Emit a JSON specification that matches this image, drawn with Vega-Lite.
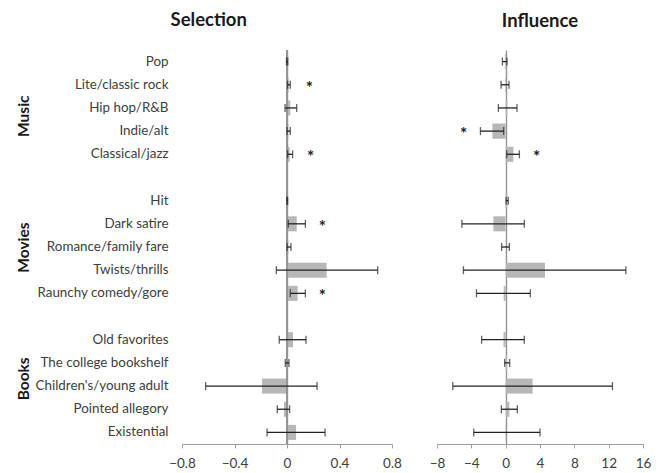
{
  "$schema": "https://vega.github.io/schema/vega-lite/v6.json",
  "padding": {"left": 15, "top": 10, "right": 5, "bottom": 5},
  "config": {"view": {"stroke": null}, "font": "Lato", "axis": {"labelOverlap": false, "labelFlush": false, "labelBound": false}},
  "datasets": {
    "rows": [
      {"cat": "Pop", "sel": 0.002, "sel_lo": -0.004, "sel_hi": 0.006, "sel_star": null, "inf": -0.1, "inf_lo": -0.38, "inf_hi": 0.16, "inf_star": null},
      {"cat": "Lite/classic rock", "sel": 0.012, "sel_lo": 0.005, "sel_hi": 0.025, "sel_star": 0.17, "inf": -0.07, "inf_lo": -0.54, "inf_hi": 0.39, "inf_star": null},
      {"cat": "Hip hop/R&B", "sel": 0.025, "sel_lo": -0.015, "sel_hi": 0.074, "sel_star": null, "inf": 0.2, "inf_lo": -0.85, "inf_hi": 1.32, "inf_star": null},
      {"cat": "Indie/alt", "sel": 0.01, "sel_lo": 0.0, "sel_hi": 0.025, "sel_star": null, "inf": -1.55, "inf_lo": -2.94, "inf_hi": -0.23, "inf_star": -4.9},
      {"cat": "Classical/jazz", "sel": 0.02, "sel_lo": 0.005, "sel_hi": 0.043, "sel_star": 0.18, "inf": 0.9, "inf_lo": 0.12, "inf_hi": 1.6, "inf_star": 3.6},
      {"cat": "Hit", "sel": 0.002, "sel_lo": -0.002, "sel_hi": 0.005, "sel_star": null, "inf": 0.2, "inf_lo": 0.05, "inf_hi": 0.3, "inf_star": null},
      {"cat": "Dark satire", "sel": 0.074, "sel_lo": 0.01, "sel_hi": 0.14, "sel_star": 0.27, "inf": -1.43, "inf_lo": -5.1, "inf_hi": 2.17, "inf_star": null},
      {"cat": "Romance/family fare", "sel": 0.01, "sel_lo": 0.0, "sel_hi": 0.03, "sel_star": null, "inf": -0.02, "inf_lo": -0.47, "inf_hi": 0.43, "inf_star": null},
      {"cat": "Twists/thrills", "sel": 0.302, "sel_lo": -0.081, "sel_hi": 0.691, "sel_star": null, "inf": 4.58, "inf_lo": -4.92, "inf_hi": 14.0, "inf_star": null},
      {"cat": "Raunchy comedy/gore", "sel": 0.081, "sel_lo": 0.025, "sel_hi": 0.14, "sel_star": 0.27, "inf": -0.23, "inf_lo": -3.4, "inf_hi": 2.87, "inf_star": null},
      {"cat": "Old favorites", "sel": 0.046, "sel_lo": -0.059, "sel_hi": 0.145, "sel_star": null, "inf": -0.25, "inf_lo": -2.8, "inf_hi": 2.17, "inf_star": null},
      {"cat": "The college bookshelf", "sel": 0.004, "sel_lo": -0.013, "sel_hi": 0.015, "sel_star": null, "inf": 0.16, "inf_lo": -0.12, "inf_hi": 0.47, "inf_star": null},
      {"cat": "Children's/young adult", "sel": -0.19, "sel_lo": -0.62, "sel_hi": 0.229, "sel_star": null, "inf": 3.14, "inf_lo": -6.16, "inf_hi": 12.44, "inf_star": null},
      {"cat": "Pointed allegory", "sel": -0.023, "sel_lo": -0.074, "sel_hi": 0.02, "sel_star": null, "inf": 0.43, "inf_lo": -0.5, "inf_hi": 1.36, "inf_star": null},
      {"cat": "Existential", "sel": 0.069, "sel_lo": -0.152, "sel_hi": 0.29, "sel_star": null, "inf": 0.05, "inf_lo": -3.72, "inf_hi": 4.0, "inf_star": null}
    ],
    "groups": [{"group": "Music"}, {"group": "Movies"}, {"group": "Books"}]
  },
  "spacing": 27,
  "hconcat": [
    {
      "title": {"text": "Selection", "fontSize": 18.5, "fontWeight": "bold", "font": "Lato", "color": "#1a1a1a", "offset": 20, "anchor": "middle", "frame": "bounds"},
      "spacing": 3,
      "hconcat": [
        {
          "width": 1,
          "height": 394,
          "data": {"name": "groups"},
          "mark": {"type": "text", "text": ""},
          "encoding": {
            "y": {"field": "group", "type": "nominal", "scale": {"domain": ["Music", "Movies", "Books"], "paddingInner": 0.16667, "paddingOuter": 0},
              "axis": {"orient": "left", "domain": false, "ticks": false, "labelAngle": -90, "labelAlign": "center", "labelBaseline": "bottom", "labelPadding": 0, "labelFontSize": 15.5, "labelFontWeight": "bold", "labelColor": "#1a1a1a", "labelFont": "Lato", "title": null}}
          }
        },
        {
          "width": 210,
          "height": 394,
          "data": {"name": "rows"},
          "resolve": {"axis": {"x": "independent"}},
          "layer": [
            {
              "mark": {"type": "bar", "height": {"band": 0.65}, "color": "#b7b7b7"},
              "encoding": {
                "y": {"field": "cat", "type": "nominal", "scale": {"domain": ["Pop","Lite/classic rock","Hip hop/R&B","Indie/alt","Classical/jazz"," ","Hit","Dark satire","Romance/family fare","Twists/thrills","Raunchy comedy/gore","  ","Old favorites","The college bookshelf","Children's/young adult","Pointed allegory","Existential"], "paddingInner": 0, "paddingOuter": 0},
                  "axis": {"orient": "left", "domain": false, "ticks": false, "labelPadding": 14, "labelFontSize": 13.4, "labelColor": "#404040", "labelFont": "Lato", "title": null, "labelLimit": 300}},
                "x": {"field": "sel", "type": "quantitative", "scale": {"domain": [-0.8, 0.8], "nice": false, "zero": false},
                  "axis": {"values": [-0.8, -0.4, 0, 0.4, 0.8], "format": ".1~f", "grid": true, "gridColor": {"condition": {"test": "abs(datum.value) < 0.001", "value": "#959595"}, "value": "transparent"}, "gridWidth": 1.4, "labelOverlap": false, "labelBound": false, "labelFlush": false, "domainColor": "#a0a0a0", "tickColor": "#a0a0a0", "tickSize": 4, "labelFontSize": 13.5, "labelColor": "#404040", "labelFont": "Lato", "title": null, "labelPadding": 8}}
              }
            },
            {
              "mark": {"type": "rule", "color": "#959595", "strokeWidth": 1.5},
              "encoding": {"x": {"datum": 0, "type": "quantitative", "axis": null}}
            },
            {
              "mark": {"type": "rule", "color": "#222", "strokeWidth": 1.3},
              "encoding": {
                "y": {"field": "cat", "type": "nominal"},
                "x": {"field": "sel_lo", "type": "quantitative", "axis": null},
                "x2": {"field": "sel_hi"}
              }
            },
            {
              "mark": {"type": "tick", "color": "#222", "size": 8, "thickness": 1.3},
              "encoding": {
                "y": {"field": "cat", "type": "nominal"},
                "x": {"field": "sel_lo", "type": "quantitative", "axis": null}
              }
            },
            {
              "mark": {"type": "tick", "color": "#222", "size": 8, "thickness": 1.3},
              "encoding": {
                "y": {"field": "cat", "type": "nominal"},
                "x": {"field": "sel_hi", "type": "quantitative", "axis": null}
              }
            },
            {
              "transform": [{"filter": "datum.sel_star != null"}],
              "mark": {"type": "text", "text": "*", "fontSize": 17, "fontWeight": "bold", "color": "#222", "dy": 4},
              "encoding": {
                "y": {"field": "cat", "type": "nominal"},
                "x": {"field": "sel_star", "type": "quantitative", "axis": null}
              }
            }
          ]
        }
      ]
    },
    {
      "width": 206,
      "height": 394,
      "title": {"text": "Influence", "fontSize": 18.5, "fontWeight": "bold", "font": "Lato", "color": "#1a1a1a", "offset": 20, "anchor": "middle", "frame": "bounds"},
      "data": {"name": "rows"},
      "resolve": {"axis": {"x": "independent"}},
      "layer": [
        {
          "mark": {"type": "bar", "height": {"band": 0.65}, "color": "#b7b7b7"},
          "encoding": {
            "y": {"field": "cat", "type": "nominal", "scale": {"domain": ["Pop","Lite/classic rock","Hip hop/R&B","Indie/alt","Classical/jazz"," ","Hit","Dark satire","Romance/family fare","Twists/thrills","Raunchy comedy/gore","  ","Old favorites","The college bookshelf","Children's/young adult","Pointed allegory","Existential"], "paddingInner": 0, "paddingOuter": 0}, "axis": null},
            "x": {"field": "inf", "type": "quantitative", "scale": {"domain": [-8, 16], "nice": false, "zero": false},
              "axis": {"values": [-8, -4, 0, 4, 8, 12, 16], "format": "d", "grid": true, "gridColor": {"condition": {"test": "abs(datum.value) < 0.001", "value": "#959595"}, "value": "transparent"}, "gridWidth": 1.4, "labelOverlap": false, "labelBound": false, "labelFlush": false, "domainColor": "#a0a0a0", "tickColor": "#a0a0a0", "tickSize": 4, "labelFontSize": 13.5, "labelColor": "#404040", "labelFont": "Lato", "title": null, "labelPadding": 8}}
          }
        },
        {
          "mark": {"type": "rule", "color": "#222", "strokeWidth": 1.3},
          "encoding": {
            "y": {"field": "cat", "type": "nominal"},
            "x": {"field": "inf_lo", "type": "quantitative", "axis": null},
            "x2": {"field": "inf_hi"}
          }
        },
        {
          "mark": {"type": "tick", "color": "#222", "size": 8, "thickness": 1.3},
          "encoding": {
            "y": {"field": "cat", "type": "nominal"},
            "x": {"field": "inf_lo", "type": "quantitative", "axis": null}
          }
        },
        {
          "mark": {"type": "tick", "color": "#222", "size": 8, "thickness": 1.3},
          "encoding": {
            "y": {"field": "cat", "type": "nominal"},
            "x": {"field": "inf_hi", "type": "quantitative", "axis": null}
          }
        },
        {
          "transform": [{"filter": "datum.inf_star != null"}],
          "mark": {"type": "text", "text": "*", "fontSize": 17, "fontWeight": "bold", "color": "#222", "dy": 4},
          "encoding": {
            "y": {"field": "cat", "type": "nominal"},
            "x": {"field": "inf_star", "type": "quantitative", "axis": null}
          }
        }
      ]
    }
  ]
}
